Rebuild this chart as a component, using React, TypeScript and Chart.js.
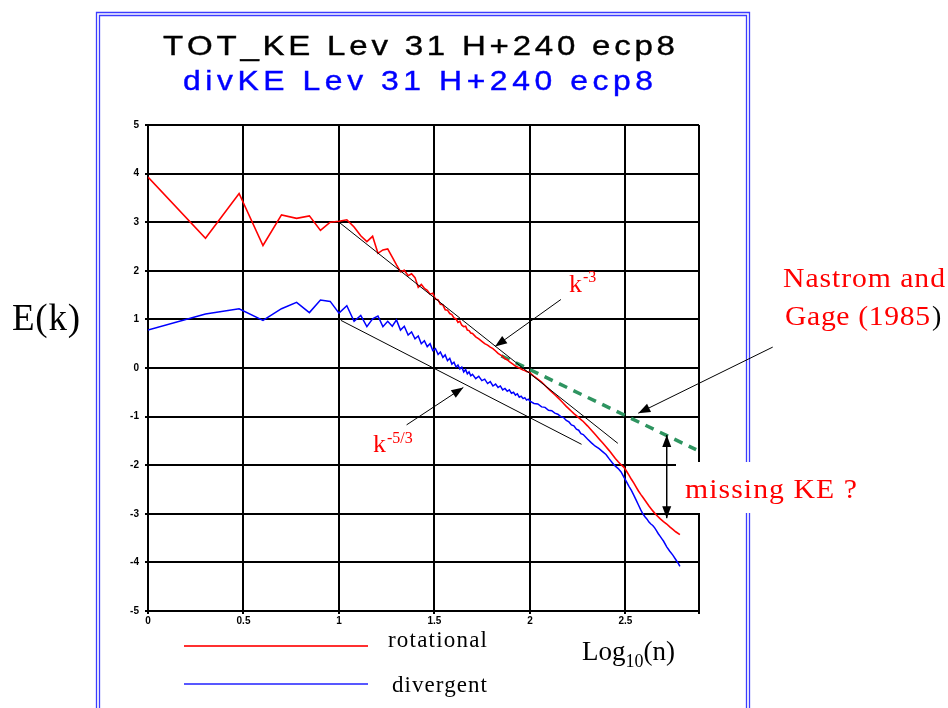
import React, { useEffect, useRef } from "react";
import { Chart, registerables } from "chart.js";

Chart.register(...registerables);

// ---------- data (log10 n, E(k)) ----------
const rotX = [
  0.0, 0.301, 0.477, 0.602, 0.699, 0.778, 0.845, 0.903, 0.954, 1.0, 1.041, 1.079, 1.114, 1.146, 1.176, 1.204,
  1.23, 1.255, 1.279, 1.301, 1.322, 1.342, 1.362, 1.38, 1.398, 1.415, 1.431, 1.447, 1.462, 1.477, 1.491, 1.505,
  1.519, 1.531, 1.544, 1.556, 1.568, 1.58, 1.591, 1.602, 1.613, 1.623, 1.633, 1.643, 1.653, 1.663, 1.672, 1.681,
  1.69, 1.699, 1.716, 1.732, 1.748, 1.763, 1.778, 1.792, 1.806, 1.82, 1.833, 1.845, 1.857, 1.869, 1.881, 1.892,
  1.903, 1.914, 1.924, 1.934, 1.944, 1.954, 1.964, 1.973, 1.982, 1.991, 2.0, 2.021, 2.041, 2.061, 2.079, 2.097,
  2.114, 2.13, 2.146, 2.161, 2.176, 2.19, 2.204, 2.217, 2.23, 2.243, 2.255, 2.267, 2.279, 2.301, 2.322, 2.342,
  2.362, 2.38, 2.398, 2.415, 2.431, 2.447, 2.462, 2.477, 2.491, 2.505, 2.519, 2.531, 2.544, 2.556, 2.568, 2.58,
  2.591, 2.602, 2.623, 2.643, 2.663, 2.681, 2.699, 2.716, 2.732, 2.748, 2.763, 2.785,
];
const rotY = [
  3.93, 2.67, 3.59, 2.52, 3.15, 3.08, 3.13, 2.83, 3.0, 3.02, 3.05, 2.9, 2.72, 2.6, 2.71, 2.36,
  2.43, 2.45, 2.28, 2.12, 1.98, 2.01, 1.9, 1.94, 1.86, 1.66, 1.72, 1.64, 1.6, 1.52, 1.54, 1.42,
  1.4, 1.31, 1.3, 1.2, 1.19, 1.12, 1.1, 1.03, 1.01, 0.94, 0.96, 0.88, 0.85, 0.86, 0.78, 0.77,
  0.72, 0.71, 0.64, 0.6, 0.55, 0.5, 0.47, 0.43, 0.4, 0.35, 0.3, 0.27, 0.24, 0.19, 0.17, 0.13,
  0.1, 0.07, 0.04, 0.02, 0.0, -0.02, -0.04, -0.05, -0.07, -0.08, -0.1, -0.17, -0.23, -0.29, -0.36, -0.43,
  -0.49, -0.55, -0.61, -0.67, -0.73, -0.79, -0.84, -0.89, -0.94, -0.98, -1.02, -1.06, -1.1, -1.19, -1.28, -1.37,
  -1.46, -1.54, -1.62, -1.7, -1.78, -1.86, -1.93, -1.99, -2.04, -2.12, -2.21, -2.29, -2.37, -2.45, -2.53, -2.6,
  -2.66, -2.72, -2.84, -2.94, -3.03, -3.1, -3.16, -3.21, -3.27, -3.32, -3.37, -3.43,
];

const divX = [
  0.0, 0.301, 0.477, 0.602, 0.699, 0.778, 0.845, 0.903, 0.954, 1.0, 1.041, 1.079, 1.114, 1.146, 1.176, 1.204,
  1.23, 1.255, 1.279, 1.301, 1.322, 1.342, 1.362, 1.38, 1.398, 1.415, 1.431, 1.447, 1.462, 1.477, 1.491, 1.505,
  1.519, 1.531, 1.544, 1.556, 1.568, 1.58, 1.591, 1.602, 1.613, 1.623, 1.633, 1.643, 1.653, 1.663, 1.672, 1.681,
  1.69, 1.699, 1.716, 1.732, 1.748, 1.763, 1.778, 1.792, 1.806, 1.82, 1.833, 1.845, 1.857, 1.869, 1.881, 1.892,
  1.903, 1.914, 1.924, 1.934, 1.944, 1.954, 1.964, 1.973, 1.982, 1.991, 2.0, 2.021, 2.041, 2.061, 2.079, 2.097,
  2.114, 2.13, 2.146, 2.161, 2.176, 2.19, 2.204, 2.217, 2.23, 2.243, 2.255, 2.267, 2.279, 2.301, 2.322, 2.342,
  2.362, 2.38, 2.398, 2.415, 2.431, 2.447, 2.462, 2.477, 2.491, 2.505, 2.519, 2.531, 2.544, 2.556, 2.568, 2.58,
  2.591, 2.602, 2.613, 2.623, 2.633, 2.643, 2.653, 2.663, 2.672, 2.681, 2.69, 2.699, 2.716, 2.732, 2.748, 2.763,
  2.778, 2.785,
];
const divY = [
  0.78, 1.11, 1.22, 0.98, 1.22, 1.35, 1.14, 1.4, 1.37, 1.13, 1.28, 0.96, 1.08, 0.85, 1.01, 1.07,
  0.85, 0.96, 0.86, 0.99, 0.78, 0.86, 0.68, 0.74, 0.6, 0.66, 0.5, 0.56, 0.44, 0.5, 0.36, 0.4,
  0.28, 0.33, 0.22, 0.27, 0.15, 0.2, 0.08, 0.12, 0.02, 0.06, -0.02, 0.02, -0.08, -0.03, -0.12, -0.08,
  -0.16, -0.13, -0.22, -0.17, -0.26, -0.23, -0.32, -0.28, -0.37, -0.33, -0.4, -0.37, -0.45, -0.42, -0.48, -0.45,
  -0.52, -0.5, -0.56, -0.53, -0.6, -0.58, -0.63, -0.61, -0.66, -0.64, -0.68, -0.73, -0.74, -0.8, -0.81, -0.87,
  -0.88, -0.93, -0.95, -1.0, -1.02, -1.08, -1.11, -1.17, -1.19, -1.26, -1.28, -1.35, -1.37, -1.46, -1.54, -1.61,
  -1.66, -1.72, -1.78, -1.87, -1.95, -2.02, -2.07, -2.14, -2.24, -2.34, -2.44, -2.52, -2.62, -2.72, -2.82, -2.92,
  -3.0, -3.06, -3.11, -3.17, -3.21, -3.24, -3.29, -3.35, -3.41, -3.46, -3.51, -3.56, -3.68, -3.77, -3.85, -3.94,
  -4.03, -4.08,
];

// reference slopes and observations
const kMinus3X = [1.0, 2.46];
const kMinus3Y = [3.0, -1.55];
const kMinus53X = [1.01, 2.27];
const kMinus53Y = [0.98, -1.57];
const nastromX = [1.85, 2.87];
const nastromY = [0.25, -1.68];

const xTickValues = [0, 0.5, 1, 1.5, 2, 2.5];
const xTickLabels = ["0", "0.5", "1", "1.5", "2", "2.5"];
const yTickValues = [-5, -4, -3, -2, -1, 0, 1, 2, 3, 4, 5];

const titleLines = ["TOT_KE Lev 31 H+240 ecp8", "divKE Lev 31 H+240 ecp8"];
const seriesNames = ["rotational", "divergent"];

// annotation anchors in data units
const k3Arrow = { from: [2.162, 1.41], to: [1.817, 0.44] };
const k53Arrow = { from: [1.354, -1.17], to: [1.651, -0.4] };
const ngArrow = { from: [3.271, 0.43], to: [2.567, -0.93] };
const gapArrow = { x: 2.716, y1: -1.38, y2: -3.09 };
const k3Label = [2.204, 1.56];
const k53Label = [1.178, -1.73];

const zip = (xs: number[], ys: number[]) => xs.map((x, i) => ({ x, y: ys[i] }));

const SANS = "'Liberation Sans', Arial, sans-serif";
const SERIF = "'Liberation Serif', 'Times New Roman', serif";

// draws text starting at x with glyphs widened by hScale, spread to the given width
function spacedText(
  ctx: CanvasRenderingContext2D,
  text: string,
  x: number,
  y: number,
  width: number,
  hScale = 1,
  stroke = 0
) {
  const chars = Array.from(text);
  let natural = 0;
  for (const c of chars) natural += ctx.measureText(c).width * hScale;
  const sp = chars.length > 1 ? (width - natural) / (chars.length - 1) : 0;
  let cx = x;
  for (const c of chars) {
    ctx.save();
    ctx.translate(cx, y);
    ctx.scale(hScale, 1);
    ctx.fillText(c, 0, 0);
    if (stroke > 0) {
      ctx.lineWidth = stroke;
      ctx.strokeStyle = ctx.fillStyle as string;
      ctx.strokeText(c, 0, 0);
    }
    ctx.restore();
    cx += ctx.measureText(c).width * hScale + sp;
  }
}

function arrowHead(ctx: CanvasRenderingContext2D, x1: number, y1: number, x2: number, y2: number, len = 12, hw = 4.5) {
  const a = Math.atan2(y2 - y1, x2 - x1);
  const bx = x2 - len * Math.cos(a);
  const by = y2 - len * Math.sin(a);
  ctx.beginPath();
  ctx.moveTo(x2, y2);
  ctx.lineTo(bx + hw * Math.sin(a), by - hw * Math.cos(a));
  ctx.lineTo(bx - hw * Math.sin(a), by + hw * Math.cos(a));
  ctx.closePath();
  ctx.fill();
}

function arrow(ctx: CanvasRenderingContext2D, x1: number, y1: number, x2: number, y2: number) {
  ctx.beginPath();
  ctx.moveTo(x1, y1);
  ctx.lineTo(x2, y2);
  ctx.stroke();
  arrowHead(ctx, x1, y1, x2, y2);
}

const overlay = {
  id: "overlay",
  afterDraw(chart: any) {
    const ctx: CanvasRenderingContext2D = chart.ctx;
    const xs = chart.scales.x;
    const ys = chart.scales.y;
    const px = (v: number) => xs.getPixelForValue(v);
    const py = (v: number) => ys.getPixelForValue(v);
    ctx.save();

    // blue window frame (double line)
    ctx.lineWidth = 1.3;
    ctx.strokeStyle = "#3c3cff";
    for (const o of [0, 3]) {
      ctx.beginPath();
      ctx.moveTo(96.5 + o, 710);
      ctx.lineTo(96.5 + o, 12.5 + o);
      ctx.lineTo(749.5 - o, 12.5 + o);
      ctx.lineTo(749.5 - o, 710);
      ctx.stroke();
    }

    // white box behind "missing KE ?"
    ctx.fillStyle = "#ffffff";
    ctx.fillRect(676, 462, 200, 51);

    // titles
    ctx.textBaseline = "alphabetic";
    ctx.fillStyle = "#000000";
    ctx.font = `28px ${SANS}`;
    spacedText(ctx, titleLines[0], 163, 55, 512, 1.18, 0.4);
    ctx.fillStyle = "#0000ff";
    ctx.font = `27px ${SANS}`;
    spacedText(ctx, titleLines[1], 183, 90, 470, 1.18, 0.4);

    // axis labels
    ctx.fillStyle = "#000000";
    ctx.font = `37px ${SERIF}`;
    spacedText(ctx, "E(k)", 12, 330, 68);
    ctx.font = `27px ${SERIF}`;
    ctx.fillText("Log", 582, 660);
    let lx = 582 + ctx.measureText("Log").width;
    ctx.font = `18px ${SERIF}`;
    ctx.fillText("10", lx, 667);
    lx += ctx.measureText("10").width;
    ctx.font = `27px ${SERIF}`;
    ctx.fillText("(n)", lx, 660);

    // reference arrows
    ctx.strokeStyle = "#000000";
    ctx.fillStyle = "#000000";
    ctx.lineWidth = 1;
    arrow(ctx, px(k3Arrow.from[0]), py(k3Arrow.from[1]), px(k3Arrow.to[0]), py(k3Arrow.to[1]));
    arrow(ctx, px(k53Arrow.from[0]), py(k53Arrow.from[1]), px(k53Arrow.to[0]), py(k53Arrow.to[1]));
    arrow(ctx, px(ngArrow.from[0]), py(ngArrow.from[1]), px(ngArrow.to[0]), py(ngArrow.to[1]));
    // double-headed arrow
    const gx = px(gapArrow.x);
    const g1 = py(gapArrow.y1);
    const g2 = py(gapArrow.y2);
    ctx.lineWidth = 1.5;
    ctx.beginPath();
    ctx.moveTo(gx, g1);
    ctx.lineTo(gx, g2);
    ctx.stroke();
    arrowHead(ctx, gx, g2, gx, g1);
    arrowHead(ctx, gx, g1, gx, g2);

    // slope labels
    ctx.fillStyle = "#ff0000";
    ctx.font = `26px ${SERIF}`;
    let kx = px(k3Label[0]);
    let ky = py(k3Label[1]);
    ctx.fillText("k", kx, ky);
    kx += ctx.measureText("k").width + 1;
    ctx.font = `16px ${SERIF}`;
    ctx.fillText("-3", kx, ky - 10);

    ctx.font = `26px ${SERIF}`;
    kx = px(k53Label[0]);
    ky = py(k53Label[1]);
    ctx.fillText("k", kx, ky);
    kx += ctx.measureText("k").width + 1;
    ctx.font = `16px ${SERIF}`;
    ctx.fillText("-5/3", kx, ky - 9);

    // Nastrom & Gage note
    ctx.font = `28px ${SERIF}`;
    ctx.fillStyle = "#ff0000";
    spacedText(ctx, "Nastrom and", 783, 287, 162, 1.06);
    spacedText(ctx, "Gage (1985", 785, 325, 145, 1.06);
    ctx.fillStyle = "#000000";
    ctx.fillText(")", 932, 325);

    ctx.fillStyle = "#ff0000";
    ctx.font = `27px ${SERIF}`;
    spacedText(ctx, "missing KE ?", 685, 498, 172, 1.1);

    // legend
    ctx.lineWidth = 2;
    ctx.strokeStyle = "#ff3030";
    ctx.beginPath();
    ctx.moveTo(184, 646);
    ctx.lineTo(368, 646);
    ctx.stroke();
    ctx.lineWidth = 1.5;
    ctx.strokeStyle = "#2020ff";
    ctx.beginPath();
    ctx.moveTo(184, 684);
    ctx.lineTo(368, 684);
    ctx.stroke();
    ctx.fillStyle = "#000000";
    ctx.font = `23px ${SERIF}`;
    spacedText(ctx, seriesNames[0], 388, 647, 99);
    spacedText(ctx, seriesNames[1], 392, 692, 95);

    ctx.restore();
  },
};

export default function App() {
  const ref = useRef<HTMLCanvasElement | null>(null);

  useEffect(() => {
    document.body.style.margin = "0";
    document.body.style.background = "#ffffff";
    if (!ref.current) return;
    const chart = new Chart(ref.current, {
      type: "line",
      data: {
        datasets: [
          {
            label: seriesNames[0],
            data: zip(rotX, rotY),
            borderColor: "#ff0000",
            borderWidth: 1.6,
            pointRadius: 0,
            tension: 0,
            order: 1,
          },
          {
            label: seriesNames[1],
            data: zip(divX, divY),
            borderColor: "#0000ff",
            borderWidth: 1.5,
            pointRadius: 0,
            tension: 0,
            order: 2,
          },
          {
            label: "k-3",
            data: zip(kMinus3X, kMinus3Y),
            borderColor: "#000000",
            borderWidth: 1,
            pointRadius: 0,
            order: 0,
          },
          {
            label: "k-5/3",
            data: zip(kMinus53X, kMinus53Y),
            borderColor: "#000000",
            borderWidth: 1,
            pointRadius: 0,
            order: 0,
          },
          {
            label: "Nastrom and Gage (1985)",
            data: zip(nastromX, nastromY),
            borderColor: "#2e9460",
            borderWidth: 3.5,
            borderDash: [9, 7],
            pointRadius: 0,
            order: 3,
          },
        ],
      },
      options: {
        responsive: false,
        maintainAspectRatio: false,
        animation: false,
        layout: { padding: { left: 128, right: 249, top: 125, bottom: 82 } },
        plugins: { legend: { display: false }, title: { display: false }, tooltip: { enabled: false } },
        scales: {
          x: {
            type: "linear",
            min: 0,
            max: 2.885,
            afterFit: (s: any) => {
              s.height = 15;
            },
            ticks: {
              stepSize: 0.5,
              autoSkip: false,
              maxRotation: 0,
              padding: 1,
              color: "#000000",
              font: { size: 10, weight: "bold", family: SANS },
              callback: (v: any) => {
                const i = xTickValues.findIndex((t) => Math.abs(t - Number(v)) < 1e-6);
                return i >= 0 ? xTickLabels[i] : "";
              },
            },
            grid: { color: "#000000", lineWidth: 2, tickLength: 3 },
            border: { color: "#000000", width: 2 },
          },
          y: {
            type: "linear",
            min: -5,
            max: 5,
            afterFit: (s: any) => {
              s.width = 20;
            },
            ticks: {
              stepSize: 1,
              padding: 6,
              color: "#000000",
              font: { size: 10, weight: "bold", family: SANS },
              callback: (v: any) => (yTickValues.includes(Number(v)) ? String(v) : ""),
            },
            grid: { color: "#000000", lineWidth: 2, tickLength: 3 },
            border: { color: "#000000", width: 2 },
          },
        },
      },
      plugins: [overlay],
    });
    return () => chart.destroy();
  }, []);

  return (
    <div style={{ width: 948, height: 708, background: "#ffffff" }}>
      <canvas ref={ref} width={948} height={708} style={{ display: "block" }} />
    </div>
  );
}
